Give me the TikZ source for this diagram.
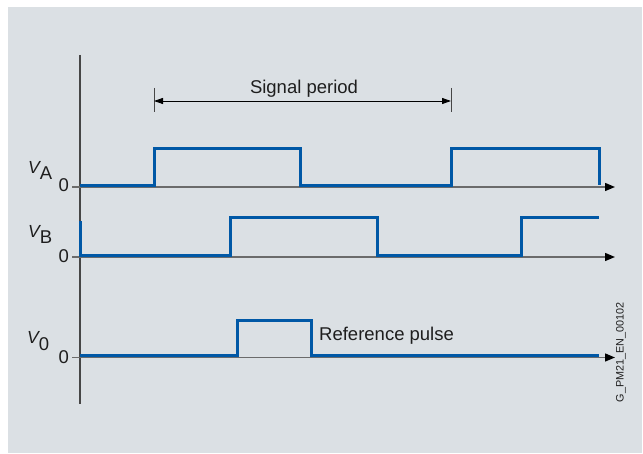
\documentclass[tikz,border=0pt]{standalone}
\usepackage{fontspec}
\setmainfont{Liberation Sans}
\usetikzlibrary{arrows.meta}
\definecolor{bg}{RGB}{219,224,228}
\definecolor{sigblue}{RGB}{0,88,166}
\definecolor{axisgray}{RGB}{70,70,70}
\definecolor{txt}{RGB}{30,30,30}
\begin{document}
\begin{tikzpicture}[x=1pt,y=-1pt,
  axisline/.style={draw=axisgray,line width=1.1pt},
  haxis/.style={draw=axisgray!80,line width=1.4pt,-{Triangle[length=10pt,width=8pt,color=black]}},
  signal/.style={draw=sigblue,line width=3pt,line join=miter,line cap=butt},
  lbl/.style={inner sep=0pt,text=txt,font=\fontsize{18.5}{18.5}\selectfont},
  vlbl/.style={inner sep=0pt,text=txt,anchor=base west},
  zlbl/.style={inner sep=0pt,text=txt,anchor=base east,font=\fontsize{18.5}{18.5}\selectfont},
  dimline/.style={draw=black,line width=0.9pt,{Triangle[length=9pt,width=6pt]}-{Triangle[length=9pt,width=6pt]}},
  tickline/.style={draw=axisgray,line width=0.9pt}
]
\useasboundingbox (0,0) rectangle (643,454);
\fill[bg] (7.5,7) rectangle (642,453);

% coordinates
\coordinate (ytop) at (80,55);
\coordinate (ybot) at (80,404);
\coordinate (a0) at (72,187);   \coordinate (aend) at (615,187);
\coordinate (b0) at (72,257);   \coordinate (bend) at (615,257);
\coordinate (c0) at (72,357.5); \coordinate (cend) at (615,357.5);
\coordinate (p1) at (154,101);  \coordinate (p2) at (451,101);
\coordinate (p1t) at (154,88);  \coordinate (p1b) at (154,112);
\coordinate (p2t) at (451,88);  \coordinate (p2b) at (451,112);

% axes
\draw[axisline] (ytop) -- (ybot);
\draw[haxis] (a0) -- (aend);
\draw[haxis] (b0) -- (bend);
\draw[haxis] (c0) -- (cend);

% signals
\draw[signal] (80,185.5) -- (154,185.5) -- (154,149) -- (300,149) -- (300,185.5)
  -- (451,185.5) -- (451,148.5) -- (599,148.5) -- (599,185);
\draw[signal] (80,221) -- (80,255.5) -- (230,255.5) -- (230,218) -- (377,218)
  -- (377,255.5) -- (521,255.5) -- (521,217.5) -- (599,217.5);
\draw[signal] (80,356) -- (237,356) -- (237,321) -- (311,321) -- (311,356) -- (599,356);

% signal period
\draw[tickline] (p1t) -- (p1b);
\draw[tickline] (p2t) -- (p2b);
\draw[dimline] (p1) -- (p2);
\node[lbl,anchor=base] (sp) at (304,94) {Signal period};

% reference pulse
\node[lbl,anchor=base west] (rp) at (319,341) {Reference pulse};

% labels
\node[vlbl] (va) at (28,174) {{\fontsize{17.5}{17.5}\selectfont\itshape V}\raisebox{-5.5pt}{\fontsize{18.5}{18.5}\selectfont A}};
\node[vlbl] (vb) at (28,238) {{\fontsize{17.5}{17.5}\selectfont\itshape V}\raisebox{-5.5pt}{\fontsize{18.5}{18.5}\selectfont B}};
\node[vlbl] (vc) at (27,344) {{\fontsize{17.5}{17.5}\selectfont\itshape V}\raisebox{-7pt}{\fontsize{18.5}{18.5}\selectfont 0}};
\node[zlbl] (za) at (69,192) {0};
\node[zlbl] (zb) at (69,263) {0};
\node[zlbl] (zc) at (69,363.5) {0};

% document id
\node[inner sep=0pt,text=txt,rotate=90,font=\fontsize{10.8}{10.8}\selectfont] (id) at (621,352.5) {G\_PM21\_EN\_00102};
\end{tikzpicture}
\end{document}
